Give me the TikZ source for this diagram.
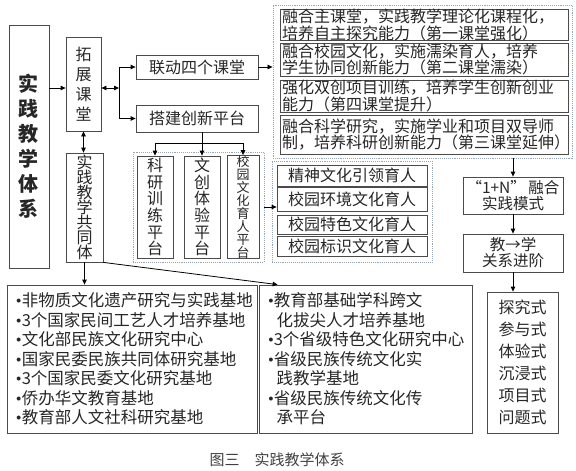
\documentclass[tikz,border=0pt]{standalone}
\usepackage{fontspec}
\setmainfont{Noto Sans CJK SC}
\newfontfamily\dotfont{Liberation Serif}
\usetikzlibrary{arrows.meta,calc}
\definecolor{boxline}{RGB}{75,75,75}
\definecolor{dashline}{RGB}{150,166,182}
\newcommand{\pt}{{\dotfont •}}
\lineskiplimit=-50pt

\begin{document}
\begin{tikzpicture}[x=1pt,y=-1pt,line width=0.8pt,>={Triangle[length=5pt,width=4.5pt]},
  box/.style={draw=boxline,inner sep=0pt,align=center,text=black!85},
  grp/.style={draw=dashline,densely dotted,line width=0.9pt,inner sep=0pt},
  vtext/.style={font=\fontsize{16}{#1}\selectfont},
  ktext/.style={minimum width=288,text width=284,inner xsep=2,align=left,font=\fontsize{16}{13.5}\selectfont},
  ltext/.style={align=left,font=\fontsize{16.5}{19.5}\selectfont}]
  \useasboundingbox (0,0) rectangle (576,471);

  \node[grp,minimum width=299,minimum height=153] (grpB) at (422.5,81.5) {};
  \node[grp,minimum width=131,minimum height=110] (grpA) at (198.5,207) {};
  \node[grp,minimum width=160,minimum height=101] (grpC) at (352,211.5) {};

  \node[box,minimum width=40,minimum height=243,font=\fontsize{20}{25}\selectfont\bfseries] (sys) at (29,146.5) {实\\践\\教\\学\\体\\系};
  \node[box,minimum width=35,minimum height=94,vtext=20] (tuozhan) at (83.5,84) {拓\\展\\课\\堂};
  \node[box,minimum width=37,minimum height=109,vtext=15] (gongtong) at (84.5,207.5) {实\\践\\教\\学\\共\\同\\体};

  \node[box,minimum width=122,minimum height=24,font=\fontsize{16}{16}\selectfont] (liandong) at (197,67) {联动四个课堂};
  \node[box,minimum width=122,minimum height=27,font=\fontsize{16}{16}\selectfont] (dajian) at (197,118.5) {搭建创新平台};

  \node[box,minimum width=36,minimum height=102,vtext=16.7] (keyan) at (155,207) {科\\研\\训\\练\\平\\台};
  \node[box,minimum width=36,minimum height=102,vtext=16.7] (wenchuang) at (202,207) {文\\创\\体\\验\\平\\台};
  \node[box,minimum width=32,minimum height=102,font=\fontsize{13}{13}\selectfont] (xiaoyuan) at (243,207) {校\\园\\文\\化\\育\\人\\平\\台};

  \node[box,ktext,minimum height=30] (ke1) at (424,25) {融合主课堂，实践教学理论化课程化，\\培养自主探究能力（第一课堂强化）};
  \node[box,ktext,minimum height=33] (ke2) at (424,59.5) {融合校园文化，实施濡染育人，培养\\学生协同创新能力（第二课堂濡染）};
  \node[box,ktext,minimum height=32] (ke3) at (424,96) {强化双创项目训练，培养学生创新创业\\能力（第四课堂提升）};
  \node[box,ktext,minimum height=39] (ke4) at (424,134.5) {融合科学研究，实施学业和项目双导师\\制，培养科研创新能力（第三课堂延伸）};

  \node[box,minimum width=150,minimum height=21,font=\fontsize{16}{16}\selectfont] (wh1) at (352,175.5) {精神文化引领育人};
  \node[box,minimum width=150,minimum height=24,font=\fontsize{16}{16}\selectfont] (wh2) at (352,199) {校园环境文化育人};
  \node[box,minimum width=150,minimum height=19,font=\fontsize{16}{16}\selectfont] (wh3) at (352,224.5) {校园特色文化育人};
  \node[box,minimum width=150,minimum height=20,font=\fontsize{16}{16}\selectfont] (wh4) at (352,246) {校园标识文化育人};

  \node[box,minimum width=100,minimum height=37,font=\fontsize{15.5}{15.5}\selectfont] (moshi) at (513,195.5) {“1+N”\,融合\\实践模式};
  \node[box,minimum width=100,minimum height=38,font=\fontsize{15.5}{16}\selectfont] (jinjie) at (513,253) {教→学\\关系进阶};
  \node[box,minimum width=71,minimum height=141,font=\fontsize{16}{22}\selectfont] (fangshi) at (522.5,362.5) {探究式\\参与式\\体验式\\沉浸式\\项目式\\问题式};

  \node[box,ltext,text width=232,inner xsep=9,minimum height=148] (jidi1) at (132,359) {\pt 非物质文化遗产研究与实践基地\\\pt 3个国家民间工艺人才培养基地\\\pt 文化部民族文化研究中心\\\pt 国家民委民族共同体研究基地\\\pt 3个国家民委文化研究基地\\\pt 侨办华文教育基地\\\pt 教育部人文社科研究基地};
  \node[box,ltext,text width=195,inner xsep=9,minimum height=148] (jidi2) at (365.5,359) {\pt 教育部基础学科跨文\\\hphantom{\pt}\,化拔尖人才培养基地\\\pt 3个省级特色文化研究中心\\\pt 省级民族传统文化实\\\hphantom{\pt}\,践教学基地\\\pt 省级民族传统文化传\\\hphantom{\pt}\,承平台};

  \node[text=black!75,font=\fontsize{15}{15}\selectfont] (cap) at (277,460) {图三\quad 实践教学体系};

  \coordinate (j1) at (119,88);
  \draw[->] (sys.east |- j1) -- (tuozhan.west |- j1);
  \draw[<->] (tuozhan.east |- j1) -- (j1);
  \draw (j1 |- liandong) -- (j1 |- dajian);
  \draw[->] (j1 |- liandong) -- (liandong.west);
  \draw[->] (j1 |- dajian) -- (dajian.west);
  \draw[->] (liandong.east) -- (liandong.east -| grpB.west);

  \path (wenchuang.north |- dajian.south) ++(0,11) coordinate (j2);
  \draw (wenchuang.north |- dajian.south) -- (j2);
  \draw (j2 -| keyan) -- (j2 -| xiaoyuan);
  \draw[->] (j2 -| keyan) -- (keyan.north);
  \draw[->] (j2) -- (wenchuang.north);
  \draw[->] (j2 -| xiaoyuan) -- (xiaoyuan.north);
  \draw[->] (grpA.east) -- (grpA.east -| wh2.west);

  \draw[<->] (tuozhan.south) -- (tuozhan.south |- gongtong.north);
  \draw[->] (gongtong.south) -- (gongtong.south |- jidi1.north);
  \draw[->] (gongtong.south east) -- ($(jidi2.north west)+(19,0)$);

  \draw[->] (moshi.north |- grpB.south) -- (moshi.north);
  \draw[->] (moshi.south) -- (jinjie.north);
  \draw[->] (jinjie.south) -- (jinjie.south |- fangshi.north);
\end{tikzpicture}
\end{document}
